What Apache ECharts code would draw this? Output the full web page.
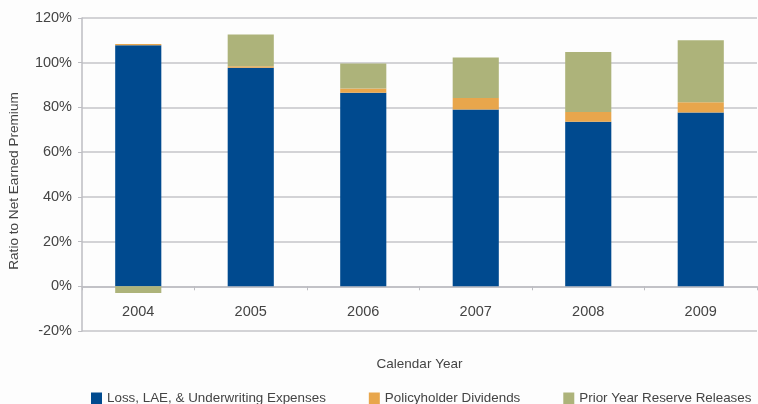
<!DOCTYPE html>
<html><head><meta charset="utf-8">
<script src="https://cdn.jsdelivr.net/npm/echarts@6/dist/echarts.min.js"></script>
<style>html,body{margin:0;padding:0;background:#fdfdfd}#c{width:758px;height:404px}</style>
</head><body><div id="c"></div>
<script>
const years = ['2004','2005','2006','2007','2008','2009'];
const lossLAE = [107.8, 97.8, 86.6, 79.1, 73.6, 77.7];
const dividends = [0.6, 0.6, 1.9, 5.1, 4.3, 4.6];
const reserveReleases = [-3.0, 14.2, 11.1, 18.1, 26.9, 27.8];
const yTicks = [-20, 0, 20, 40, 60, 80, 100, 120];

const font = 'Liberation Sans';
const txt = '#444';
const chart = echarts.init(document.getElementById('c'));
const mk = (name, data, color) => ({
  name, type: 'bar', stack: 'total', data, barWidth: '41%',
  itemStyle: { color }, emphasis: { disabled: true }
});
chart.setOption({
  backgroundColor: '#fdfdfd',
  animation: false,
  textStyle: { fontFamily: font },
  grid: { left: 82, right: 1, top: 18, bottom: 73, containLabel: false, outerBoundsMode: 'none' },
  legend: {
    left: 86, top: 387, width: 672, itemWidth: 11, itemHeight: 12, itemGap: 43,
    icon: 'rect', textStyle: { fontSize: 13.4, color: txt, fontFamily: font },
    data: ['Loss, LAE, & Underwriting Expenses', 'Policyholder Dividends', 'Prior Year Reserve Releases']
  },
  xAxis: {
    type: 'category', data: years,
    name: 'Calendar Year', nameLocation: 'middle', nameGap: 26, nameMoveOverlap: false,
    nameTextStyle: { fontSize: 13.5, color: txt, fontFamily: font },
    axisLine: { onZero: true, lineStyle: { color: '#bdbdc2', width: 1.5 } },
    axisTick: { show: true, length: 4, lineStyle: { color: '#bdbdc2' } },
    axisLabel: { fontSize: 14.5, color: txt, margin: -27, fontFamily: font }
  },
  yAxis: {
    type: 'value', min: yTicks[0], max: yTicks[yTicks.length - 1], interval: 20,
    name: 'Ratio to Net Earned Premium', nameLocation: 'middle', nameGap: 61,
    nameTextStyle: { fontSize: 13.6, color: txt, fontFamily: font, padding: [0, 13, 0, 0] },
    axisLine: { show: true, lineStyle: { color: '#bdbdc2', width: 1.5 } },
    axisTick: { show: true, length: 4, lineStyle: { color: '#bdbdc2' } },
    axisLabel: { fontSize: 14.5, color: txt, margin: 10, formatter: '{value}%', fontFamily: font },
    splitLine: { lineStyle: { color: '#c4c4c9', width: 1.5 } }
  },
  series: [
    mk('Loss, LAE, & Underwriting Expenses', lossLAE, '#004a8f'),
    mk('Policyholder Dividends', dividends, '#e8a64c'),
    mk('Prior Year Reserve Releases', reserveReleases, '#adb37a')
  ]
});
</script></body></html>
